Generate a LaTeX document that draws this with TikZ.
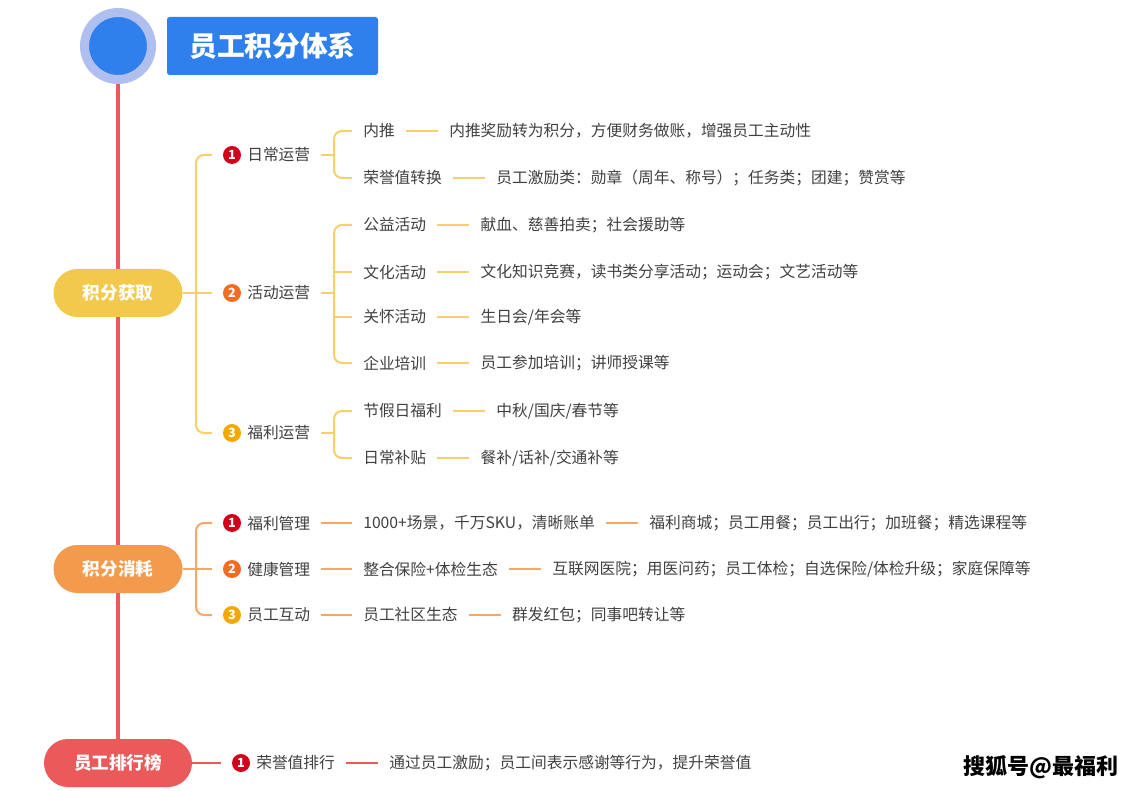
\documentclass[tikz,border=0pt]{standalone}
\usepackage{fontspec}
\setmainfont{Noto Sans CJK SC}
\usetikzlibrary{positioning,backgrounds}
\definecolor{ink}{HTML}{404040}
\definecolor{ttlblue}{HTML}{2F80ED}
\definecolor{ringblue}{HTML}{AFC0F0}
\definecolor{spinered}{HTML}{EB5A5A}
\definecolor{gainyel}{HTML}{F2C94C}
\definecolor{gainln}{HTML}{F7D06C}
\definecolor{conor}{HTML}{F39A4C}
\definecolor{conln}{HTML}{F6A766}
\definecolor{nored}{HTML}{D0021B}
\definecolor{noorange}{HTML}{F26D21}
\definecolor{noamber}{HTML}{F5A800}
\begin{document}
\begin{tikzpicture}[x=0.75pt,y=-0.75pt,
    every node/.style={font=\fontsize{11.8}{13}\selectfont,text=ink},
    txt/.style={inner xsep=8.25pt},
    pill/.style={fill=#1,rounded corners=18pt,minimum height=36pt,
      minimum width=96.75pt,text=white,font=\fontsize{13.2}{15}\selectfont\bfseries},
    badge/.style={circle,fill=#1,minimum size=13.5pt,inner sep=0pt,
      outer sep=8.25pt,text=white,font=\fontsize{9.5}{10}\selectfont\bfseries},
    gline/.style={draw=gainln,line width=1.5pt},
    oline/.style={draw=conln,line width=1.5pt},
    rline/.style={draw=spinered,line width=1.5pt},
  ]
  \useasboundingbox (0,0) rectangle (1145,791);

  % head
  \node[circle,fill=ttlblue,draw=ringblue,line width=6.75pt,minimum size=50.25pt] (top) at (118,46) {};
  \node[fill=ttlblue,rounded corners=2pt,minimum width=158.25pt,minimum height=43.5pt,
    text=white,font=\fontsize{20.8}{22}\selectfont\bfseries] (ttl) at (272.5,46) {员工积分体系};

  % main stages
  \node[pill=gainyel] (gain) at (118,293) {积分获取};
  \node[pill=conor] (con) at (118,569) {积分消耗};
  \node[pill=spinered,minimum width=111pt] (rank) at (118,763) {员工排行榜};
  \begin{scope}[on background layer]
    \draw[spinered,line width=3pt] (top) -- (rank);
  \end{scope}

  % gain: groups
  \node[badge=nored] (g1b) at (232,155) {1};
  \node[badge=noorange] (g2b) at (232,293) {2};
  \node[badge=noamber] (g3b) at (232,433) {3};
  \node[txt,anchor=west] (g1) at (236,155) {日常运营};
  \node[txt,anchor=west] (g2) at (236,293) {活动运营};
  \node[txt,anchor=west] (g3) at (236,433) {福利运营};
  \draw[gline,rounded corners=6pt] (g1b) -| (196,293) |- (g3b);
  \draw[gline] (gain) -- (g2b);

  % gain: items
  \foreach \n/\y/\a/\b in {
      c11/131/内推/内推奖励转为积分，方便财务做账，增强员工主动性,
      c12/178/荣誉值转换/员工激励类：勋章（周年、称号）；任务类；团建；赞赏等,
      c21/225/公益活动/献血、慈善拍卖；社会援助等,
      c22/272/文化活动/文化知识竞赛，读书类分享活动；运动会；文艺活动等,
      c23/317/关怀活动/{生日会/年会等},
      c24/363/企业培训/员工参加培训；讲师授课等,
      c31/411/节假日福利/{中秋/国庆/春节等},
      c32/458/日常补贴/{餐补/话补/交通补等}}{
    \node[txt,anchor=west] (\n) at (352,\y) {\a};
    \node[txt,right=24pt of \n] (\n l) {\b};
    \draw[gline] (\n) -- (\n l);
  }
  \coordinate (j1) at (334,155);
  \coordinate (j2) at (334,293);
  \coordinate (j3) at (334,433);
  \draw[gline] (g1) -- (j1);
  \draw[gline] (g2) -- (j2);
  \draw[gline] (g3) -- (j3);
  \draw[gline,rounded corners=6pt] (c11) -| (j1) |- (c12);
  \draw[gline,rounded corners=6pt] (c21) -| (j2) |- (c24);
  \draw[gline] (c22) -- (c22 -| j2);
  \draw[gline] (c23) -- (c23 -| j2);
  \draw[gline,rounded corners=6pt] (c31) -| (j3) |- (c32);

  % consumption
  \node[badge=nored] (h1b) at (232,523) {1};
  \node[badge=noorange] (h2b) at (232,569) {2};
  \node[badge=noamber] (h3b) at (232,615) {3};
  \draw[oline,rounded corners=6pt] (h1b) -| (196,569) |- (h3b);
  \draw[oline] (con) -- (h2b);
  \foreach \n/\y/\a/\m/\b in {
      h1/523/福利管理/1000+场景，千万SKU，清晰账单/福利商城；员工用餐；员工出行；加班餐；精选课程等,
      h2/569/健康管理/整合保险+体检生态/{互联网医院；用医问药；员工体检；自选保险/体检升级；家庭保障等},
      h3/615/员工互动/员工社区生态/群发红包；同事吧转让等}{
    \node[txt,anchor=west] (\n) at (236,\y) {\a};
    \node[txt,anchor=west] (\n m) at (352,\y) {\m};
    \node[txt,right=24pt of \n m] (\n l) {\b};
    \draw[oline] (\n) -- (\n m);
    \draw[oline] (\n m) -- (\n l);
  }

  % ranking
  \node[badge=nored] (r1b) at (241,763) {1};
  \node[txt,anchor=west] (r1) at (245,763) {荣誉值排行};
  \node[txt,right=24pt of r1] (r1l) {通过员工激励；员工间表示感谢等行为，提升荣誉值};
  \draw[rline] (rank) -- (r1b);
  \draw[rline] (r1) -- (r1l);

  \node[text=black,font=\fontsize{16.5}{18}\selectfont\bfseries] (mark) at (1041,767) {搜狐号@最福利};
\end{tikzpicture}
\end{document}
